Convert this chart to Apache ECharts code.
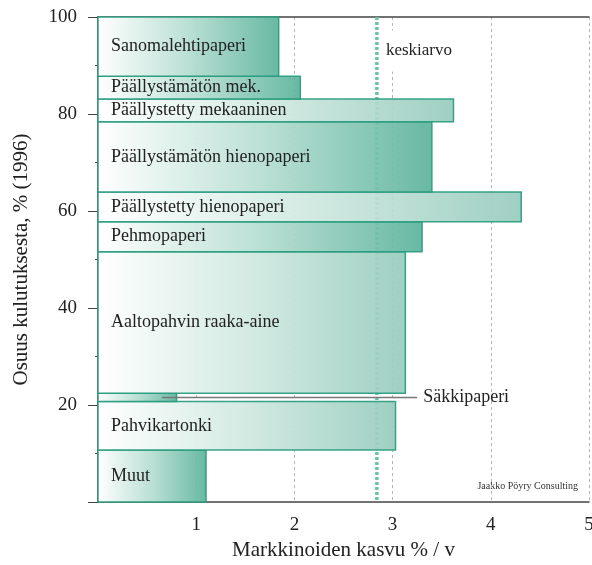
<!DOCTYPE html>
<html>
<head>
<meta charset="utf-8">
<script src="https://cdn.jsdelivr.net/npm/echarts@6/dist/echarts.min.js"></script>
<style>
  html, body { margin: 0; padding: 0; background: #fff; }
  #main { width: 592px; height: 565px; }
</style>
</head>
<body>
<div id="main"></div>
<script>
// paper grades from bottom to top
var categories = ['Muut', 'Pahvikartonki', 'Säkkipaperi', 'Aaltopahvin raaka-aine', 'Pehmopaperi',
  'Päällystetty hienopaperi', 'Päällystämätön hienopaperi', 'Päällystetty mekaaninen',
  'Päällystämätön mek.', 'Sanomalehtipaperi'];
// share of consumption 1996, %
var shares = [10.7, 10.0, 1.7, 29.2, 6.2, 6.1, 14.5, 4.7, 4.7, 12.2];
// market growth % / year
var growth = [1.10, 3.03, 0.80, 3.13, 3.30, 4.31, 3.40, 3.62, 2.06, 1.84];
var average = [2.84];
var yTicks = [0, 20, 40, 60, 80, 100];
var xTicks = [0, 1, 2, 3, 4, 5];

// which bars are drawn with the lighter gradient
var lightBars = ['Pahvikartonki', 'Aaltopahvin raaka-aine', 'Päällystetty hienopaperi', 'Päällystetty mekaaninen'];
var outsideLabel = 'Säkkipaperi';

var FONT = '"Liberation Serif", "DejaVu Serif", serif';

var barData = [];
var acc = 0;
for (var i = 0; i < categories.length; i++) {
  barData.push([acc, acc + shares[i], growth[i], categories[i]]);
  acc += shares[i];
}

function renderBar(params, api) {
  var y0 = api.value(0), y1 = api.value(1), g = api.value(2);
  var name = categories[params.dataIndex];
  var tl = api.coord([0, y1]);
  var br = api.coord([g, y0]);
  var light = lightBars.indexOf(name) >= 0;
  var fill = new echarts.graphic.LinearGradient(0, 0, 1, 0, [
    { offset: 0, color: '#ffffff' },
    { offset: 0.5, color: light ? '#cfe8e0' : '#b5ddd1' },
    { offset: 1, color: light ? '#98ccbe' : '#5cb39c' }
  ]);
  var children = [{
    type: 'rect',
    shape: { x: tl[0], y: tl[1], width: br[0] - tl[0], height: br[1] - tl[1] },
    style: { fill: fill, stroke: '#2a9c7f', lineWidth: 1.5, opacity: 0.93 }
  }];
  var cy = (tl[1] + br[1]) / 2;
  if (name === outsideLabel) {
    var from = api.coord([0.65, (y0 + y1) / 2]);
    var to = api.coord([3.25, (y0 + y1) / 2]);
    children.push({
      type: 'line',
      shape: { x1: from[0], y1: from[1], x2: to[0], y2: to[1] },
      style: { stroke: '#777', lineWidth: 1.5 },
      z2: 20
    });
    children.push({
      type: 'text',
      x: to[0] + 6, y: to[1],
      style: { text: name, font: '18px ' + FONT, fill: '#222', textVerticalAlign: 'middle', textAlign: 'left' },
      z2: 20
    });
  } else {
    children.push({
      type: 'text',
      x: tl[0] + 13, y: cy,
      style: { text: name, font: '18px ' + FONT, fill: '#222', textVerticalAlign: 'middle', textAlign: 'left' },
      z2: 10
    });
  }
  return { type: 'group', children: children };
}

function renderAverage(params, api) {
  var v = api.value(0);
  var top = api.coord([v, 100]);
  var bot = api.coord([v, 0]);
  var lab = api.coord([v, 93]);
  return {
    type: 'group',
    children: [{
      type: 'line',
      shape: { x1: top[0], y1: top[1], x2: bot[0], y2: bot[1] },
      style: { stroke: '#6cc2a8', lineWidth: 3.5, lineDash: [3, 2] }
    }, {
      type: 'text',
      x: lab[0] + 7, y: lab[1],
      style: {
        text: 'keskiarvo', font: '17px ' + FONT, fill: '#222',
        textVerticalAlign: 'middle', textAlign: 'left',
        backgroundColor: '#fff', padding: [12, 2, 12, 2]
      }
    }]
  };
}

var chart = echarts.init(document.getElementById('main'));

var option = {
  animation: false,
  grid: { left: 98, right: 3, top: 17, bottom: 63, outerBoundsMode: 'none' },
  xAxis: [
    {
      type: 'value',
      min: xTicks[0], max: xTicks[xTicks.length - 1], interval: 1,
      name: 'Markkinoiden kasvu % / v',
      nameLocation: 'middle', nameGap: 38,
      nameTextStyle: { fontFamily: FONT, fontSize: 21, color: '#222' },
      axisLine: { show: true, lineStyle: { color: '#444', width: 1.5 } },
      axisTick: { show: false },
      axisLabel: {
        margin: 14, fontFamily: FONT, fontSize: 19, color: '#222',
        formatter: function (v) { return v === 0 ? '' : String(v); }
      },
      splitLine: { show: true, lineStyle: { color: '#b5b5b5', type: [3, 3], width: 1 } }
    },
    {
      type: 'value', position: 'top',
      min: xTicks[0], max: xTicks[xTicks.length - 1],
      axisLine: { show: true, lineStyle: { color: '#444', width: 1.5 } },
      axisTick: { show: false }, axisLabel: { show: false }, splitLine: { show: false }
    }
  ],
  yAxis: {
    type: 'value',
    min: yTicks[0], max: yTicks[yTicks.length - 1], interval: 20,
    name: 'Osuus kulutuksesta, % (1996)',
    nameLocation: 'middle', nameGap: 66, nameRotate: 90,
    nameTextStyle: { fontFamily: FONT, fontSize: 21, color: '#222' },
    axisLine: { show: true, lineStyle: { color: '#444', width: 1.5 } },
    axisTick: { show: true, length: 10, lineStyle: { color: '#444', width: 1 } },
    minorTick: { show: true, splitNumber: 2, length: 3, lineStyle: { color: '#444', width: 1 } },
    axisLabel: {
      margin: 21, fontFamily: FONT, fontSize: 19, color: '#222',
      formatter: function (v) { return v === 0 ? '' : String(v); }
    },
    splitLine: { show: false }
  },
  graphic: [{
    type: 'text', right: 14, top: 481,
    style: { text: 'Jaakko Pöyry Consulting', font: '10px ' + FONT, fill: '#333' }
  }],
  series: [
    {
      type: 'custom', name: 'keskiarvo', z: 1,
      renderItem: renderAverage,
      data: average.map(function (v) { return [v]; }),
      encode: { x: 0 }
    },
    {
      type: 'custom', name: 'paperi', z: 2,
      renderItem: renderBar,
      data: barData,
      encode: { x: 2, y: [0, 1] }
    }
  ]
};

chart.setOption(option);
</script>
</body>
</html>
